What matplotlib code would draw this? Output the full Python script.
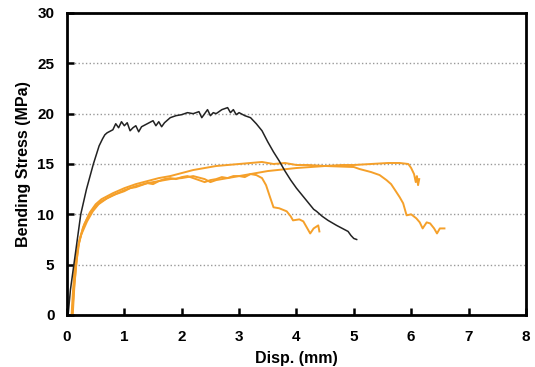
import matplotlib.pyplot as plt
from matplotlib.ticker import MultipleLocator

plt.rcParams['font.family'] = ['Liberation Sans', 'DejaVu Sans']

# Curva negra (muestra de referencia)
black_x = [0.0, 0.02, 0.06, 0.12, 0.18, 0.24, 0.34, 0.46, 0.56, 0.62, 0.66, 0.7,
           0.8, 0.85, 0.9, 0.95, 1.0, 1.05, 1.1, 1.15, 1.2, 1.25, 1.3, 1.4, 1.5, 1.55,
           1.6, 1.65, 1.7, 1.8, 1.9, 2.0, 2.1, 2.2, 2.3, 2.35, 2.4, 2.45, 2.5, 2.55,
           2.6, 2.7, 2.8, 2.85, 2.9, 2.95, 3.0, 3.1, 3.2, 3.3, 3.4, 3.5, 3.6, 3.7,
           3.8, 3.9, 4.0, 4.1, 4.2, 4.3, 4.35, 4.45, 4.55, 4.7, 4.8, 4.9, 4.95, 5.0, 5.05]
black_y = [0.0, 0.0, 2.5, 5.0, 7.5, 10.0, 12.5, 15.0, 16.8, 17.5, 17.9, 18.1,
           18.4, 19.0, 18.6, 19.2, 18.8, 19.1, 18.3, 18.6, 18.8, 18.2, 18.7, 19.0, 19.3, 18.8,
           19.2, 18.7, 19.1, 19.6, 19.8, 19.9, 20.1, 20.0, 20.2, 19.6, 20.0, 20.4, 19.8, 20.1,
           20.0, 20.4, 20.6, 20.1, 20.4, 19.9, 20.1, 19.8, 19.6, 19.0, 18.3, 17.2, 16.2, 15.3,
           14.3, 13.4, 12.6, 11.9, 11.2, 10.5, 10.3, 9.8, 9.4, 8.9, 8.6, 8.3, 7.9, 7.6, 7.5]

# Curvas naranjas (tres probetas)
a_x = [0.08, 0.1, 0.13, 0.18, 0.25, 0.35, 0.45, 0.55, 0.7, 0.85, 1.0, 1.1, 1.2, 1.3,
       1.4, 1.5, 1.6, 1.7, 1.8, 1.9, 2.0, 2.1, 2.2, 2.3, 2.4, 2.5, 2.6, 2.7, 2.8, 2.9,
       3.0, 3.1, 3.2, 3.3, 3.4, 3.47, 3.54, 3.6, 3.7, 3.83, 3.9, 3.94, 4.05, 4.12,
       4.18, 4.24, 4.3, 4.38, 4.4]
a_y = [0.0, 2.0, 4.5, 6.5, 8.0, 9.3, 10.3, 11.0, 11.6, 12.0, 12.3, 12.6, 12.7, 12.9,
       13.1, 13.0, 13.3, 13.5, 13.6, 13.5, 13.7, 13.8, 13.6, 13.4, 13.2, 13.4, 13.5, 13.7, 13.6, 13.8,
       13.8, 13.7, 14.0, 13.9, 13.6, 12.9, 11.7, 10.7, 10.6, 10.3, 9.8, 9.4, 9.5, 9.3,
       8.7, 8.1, 8.6, 8.9, 8.3]

b_x = [0.1, 0.13, 0.17, 0.22, 0.3, 0.4, 0.5, 0.6, 0.8, 1.0, 1.2, 1.4, 1.6, 1.8, 2.0,
       2.2, 2.4, 2.6, 2.8, 3.0, 3.2, 3.4, 3.6, 3.8, 4.0, 4.2, 4.5, 4.8, 5.0, 5.3, 5.6,
       5.8, 5.95, 6.0, 6.05, 6.08, 6.1, 6.12, 6.14]
b_y = [0.0, 3.0, 5.5, 7.5, 9.0, 10.2, 11.0, 11.5, 12.1, 12.6, 13.0, 13.3, 13.6, 13.8, 14.1,
       14.4, 14.6, 14.8, 14.9, 15.0, 15.1, 15.2, 15.0, 15.1, 14.9, 14.9, 14.8, 14.9, 14.9, 15.0, 15.1,
       15.1, 15.0, 14.6, 14.0, 13.2, 13.8, 12.9, 13.5]

c_x = [0.09, 0.12, 0.16, 0.2, 0.28, 0.38, 0.48, 0.6, 0.8, 1.0, 1.2, 1.4, 1.6, 1.8, 2.0,
       2.2, 2.4, 2.5, 2.6, 2.8, 3.0, 3.2, 3.5, 4.0, 4.5, 5.0, 5.1, 5.3, 5.45, 5.57, 5.65,
       5.72, 5.8, 5.86, 5.92, 6.0, 6.09, 6.15, 6.2, 6.27, 6.33, 6.4, 6.45, 6.5, 6.58]
c_y = [0.0, 2.5, 5.0, 7.0, 8.7, 9.9, 10.7, 11.3, 11.9, 12.4, 12.8, 13.1, 13.3, 13.5, 13.6,
       13.8, 13.5, 13.2, 13.4, 13.6, 13.8, 14.0, 14.3, 14.6, 14.8, 14.7, 14.5, 14.2, 13.9, 13.4, 13.0,
       12.4, 11.7, 11.1, 9.9, 10.0, 9.6, 9.2, 8.6, 9.2, 9.1, 8.6, 8.1, 8.6, 8.6]

fig = plt.figure(figsize=(5.35, 3.67), dpi=100)
ax = fig.add_axes([0.1252, 0.1417, 0.8578, 0.8229])

orange = '#F5A02A'
ax.plot(a_x, a_y, color=orange, lw=1.4)
ax.plot(b_x, b_y, color=orange, lw=1.4)
ax.plot(c_x, c_y, color=orange, lw=1.4)
ax.plot(black_x, black_y, color='#222222', lw=1.1)

ax.set_xlim(0, 8)
ax.set_ylim(0, 30)
ax.xaxis.set_major_locator(MultipleLocator(1))
ax.yaxis.set_major_locator(MultipleLocator(5))
ax.yaxis.grid(True, linestyle=':', color='#999999', lw=1.0)
ax.set_axisbelow(True)

for s in ax.spines.values():
    s.set_linewidth(2)
ax.tick_params(axis='both', direction='in', length=5, width=1.8, labelsize=11)
ax.tick_params(axis='x', pad=11)
ax.tick_params(axis='y', pad=9)
for lab in ax.get_xticklabels() + ax.get_yticklabels():
    lab.set_fontweight('bold')

ax.set_xlabel('Disp. (mm)', fontsize=11.5, fontweight='bold', labelpad=5)
ax.set_ylabel('Bending Stress (MPa)', fontsize=11.5, fontweight='bold', labelpad=5)

fig.savefig('out.png', dpi=100)
